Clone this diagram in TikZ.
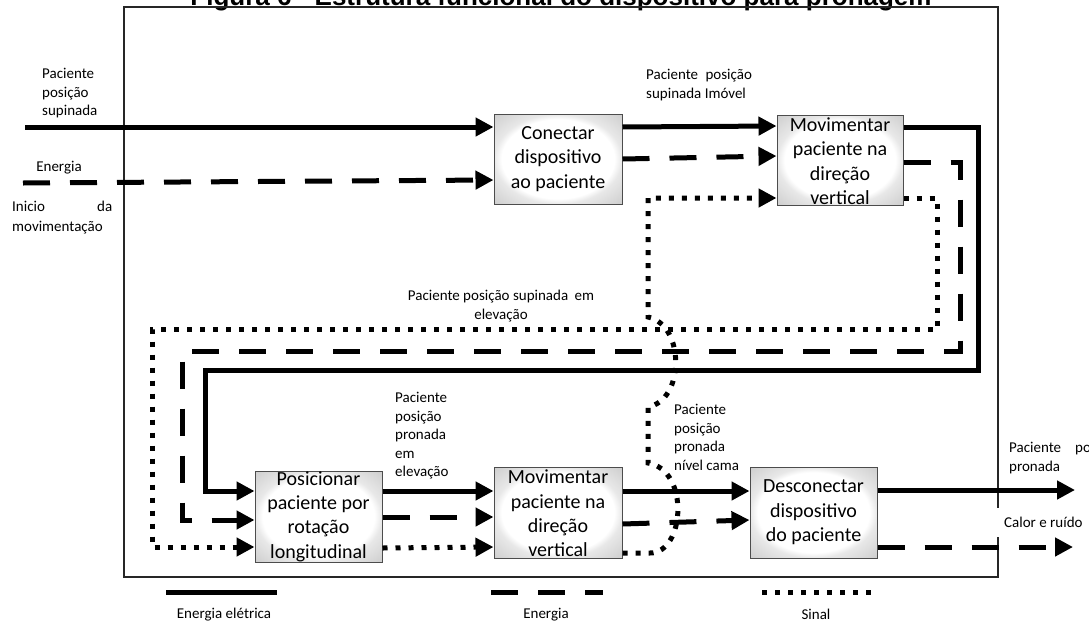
\documentclass[tikz,border=0pt]{standalone}
\usepackage{fontspec}
\setmainfont{Carlito}
\newfontfamily\titlefont{Liberation Sans}
\usetikzlibrary{arrows.meta,shadows,calc}
\newcommand{\lblfont}{\fontsize{15}{18.5}\selectfont}
\newcommand{\boxfont}{\fontsize{20}{24.4}\selectfont}
\pgfdeclareradialshading{bevel}{\pgfpoint{0bp}{0bp}}{color(0bp)=(white); color(22bp)=(white); color(25bp)=(black!9); color(36bp)=(black!20); color(50bp)=(black!20)}
\tikzset{
  flowline/.style={line width=5pt, line join=miter, line cap=butt, -{Triangle[length=18pt,width=18pt]}},
  solidflow/.style={flowline},
  dashflow/.style={flowline, dash pattern=on 27pt off 20pt},
  dotflow/.style={flowline, dash pattern=on 5pt off 8pt},
  fbox/.style={draw=black!70, line width=1pt, minimum width=127pt, minimum height=91pt, inner sep=0pt,
    shading=bevel,
    drop shadow={shadow xshift=1.2pt, shadow yshift=-1.2pt, opacity=0.3}},
  boxtext/.style={font=\boxfont, align=center, inner sep=0pt},
  lbl/.style={font=\lblfont, align=left, inner sep=0pt, anchor=north west},
  lblc/.style={font=\lblfont, align=center, inner sep=0pt},
  legline/.style={line width=5pt, line cap=butt}
}
\begin{document}
\begin{tikzpicture}[x=1pt,y=-1pt]
\useasboundingbox (0,0) rectangle (1089,624);
% title (cut at the top)
\node[font=\titlefont\bfseries\fontsize{26}{30}\selectfont, anchor=base, inner sep=0pt] (title) at (561,5) {Figura 6 - Estrutura funcional do dispositivo para pronagem};
% frame
\draw[line width=1.3pt, black!85] (124,7) rectangle (998,577);

% boxes
\node[fbox, minimum width=128pt, minimum height=90pt] (b1) at (558,159) {};
\node[fbox, minimum width=126pt, minimum height=90pt] (b2) at (840,160) {};
\node[fbox] (b3) at (318.5,516.5) {};
\node[fbox, minimum width=128pt] (b4) at (558,512.5) {};
\node[fbox] (b5) at (813.5,512.5) {};

% free ends
\coordinate (in1) at (25,127);
\coordinate (in2) at (23,183);
\coordinate (out1) at (1075,490);
\coordinate (out2) at (1073,547);

% solid flow
\draw[solidflow] (in1) -- ([yshift=32pt]b1.west);
\draw[solidflow] ([yshift=32pt]b1.east) -- ([yshift=34pt]b2.west);
\draw[solidflow] ([yshift=33pt]b2.east) -- (978,127) -- (978,370) -- (205,370) -- (205,491) -- ([yshift=25.5pt]b3.west);
\draw[solidflow] ([yshift=25.5pt]b3.east) -- ([yshift=21.5pt]b4.west);
\draw[solidflow] ([yshift=21.5pt]b4.east) -- ([yshift=21.5pt]b5.west);
\draw[solidflow] ([yshift=22.5pt]b5.east) -- (out1);

% dashed flow
\draw[dashflow] (in2) -- ([yshift=-21pt]b1.west);
\draw[dashflow] ([yshift=0pt]b1.east) -- ([yshift=4pt]b2.west);
\draw[dashflow] ([yshift=-2pt]b2.east) -- (960,162) -- (960,351) -- (182,351) -- (182,520) -- ([yshift=-3.5pt]b3.west);
\draw[dashflow] ([yshift=-0.5pt]b3.east) -- ([yshift=-4.5pt]b4.west);
\draw[dashflow] ([yshift=-11.5pt]b4.east) -- ([yshift=-7.5pt]b5.west);
\draw[dashflow] ([yshift=-34.5pt]b5.east) -- (out2);

% dotted flow
\draw[dotflow] ([yshift=-38pt]b2.east) -- (937,198) -- (937,329) -- (152,329) -- (152,547) -- ([yshift=-30.5pt]b3.west);
\draw[dotflow] ([yshift=-31.5pt]b3.east) -- ([yshift=-34.5pt]b4.west);
\draw[dotflow] ([yshift=-40.5pt]b4.east) -- (650,553) .. controls (685,553) and (690,470) .. (648,463)
   -- (648,407) .. controls (685,400) and (685,325) .. (648,317) -- (648,198) -- ([yshift=-38pt]b2.west);

% box texts
\node[boxtext] (t1) at (b1) {Conectar\\dispositivo\\ao paciente};
\node[boxtext] (t2) at ([yshift=-1pt]b2.center) {Movimentar\\paciente na\\direção\\vertical};
\node[boxtext] (t3) at (b3) {Posicionar\\paciente por\\rotação\\longitudinal};
\node[boxtext] (t4) at ([yshift=-1pt]b4.center) {Movimentar\\paciente na\\direção\\vertical};
\node[boxtext] (t5) at (b5) {Desconectar\\dispositivo\\do paciente};

% labels
\node[lbl] (l1) at (42,68) {Paciente\\posição\\supinada};
\node[lblc] (l2) at (59,168) {Energia};
\node[lbl] (l3) at (12,201) {\makebox[100pt][s]{Inicio\hfill da}\\[1.5pt]movimentação};
\node[lbl] (l4) at (646,69) {Paciente\hspace{4pt} posição\\supinada Imóvel};
\node[lblc] (l5) at (501,306) {Paciente posição supinada\hspace{3pt} em\\elevação};
\node[lbl] (l6) at (395,392) {Paciente\\posição\\pronada\\em\\elevação};
\node[lbl] (l7) at (674,404) {Paciente\\posição\\pronada\\nível cama};
\node[lbl] (l8) at (1009,442) {Paciente\hspace{14pt}posição\\pronada};
\node[lblc, fill=white, minimum height=29pt, inner xsep=8pt, anchor=west] (l9) at (996,522) {Calor e ruído};

% legend
\coordinate (la) at (166,592); \coordinate (lb) at (277,592);
\coordinate (lc) at (491,592); \coordinate (ld) at (603,592);
\coordinate (le) at (762,592); \coordinate (lf) at (873,592);
\draw[legline] (la) -- (lb);
\draw[legline, dash pattern=on 27pt off 20pt] (lc) -- (ld);
\draw[legline, dash pattern=on 5pt off 8pt] (le) -- (lf);
\node[lblc] (g1) at (224,615) {Energia elétrica};
\node[lblc] (g2) at (546,615) {Energia};
\node[lblc] (g3) at (816,614) {Sinal};
\end{tikzpicture}
\end{document}
